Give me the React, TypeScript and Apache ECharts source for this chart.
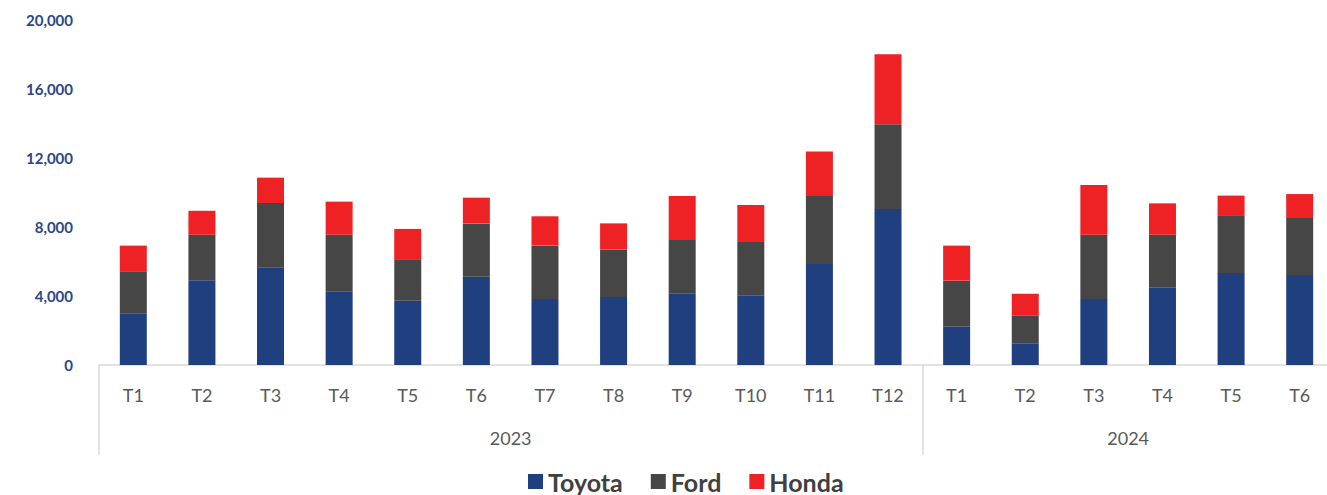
import React, { useEffect, useRef } from "react";
import * as echarts from "echarts";

const months = ["T1","T2","T3","T4","T5","T6","T7","T8","T9","T10","T11","T12","T1","T2","T3","T4","T5","T6"];
const years = ["2023", "2024"];
const yearCenters = [6, 15];
const yearBounds = [0, 12, 18];
const toyota = [3000,4910,5660,4270,3730,5120,3830,3940,4160,4040,5860,9040,2220,1260,3830,4480,5330,5220];
const ford = [2430,2640,3730,3280,2360,3090,3090,2760,3090,3090,3940,4910,2670,1620,3720,3070,3310,3300];
const honda = [1490,1390,1470,1920,1800,1490,1700,1510,2550,2150,2570,4060,2030,1250,2880,1820,1180,1390];
const yTicks = [0, 4000, 8000, 12000, 16000, 20000];

const FONT = "Lato, 'Open Sans', sans-serif";

export default function App() {
  const ref = useRef<HTMLDivElement>(null);
  useEffect(() => {
    document.body.style.margin = "0";
    const chart = echarts.init(ref.current!, null, { renderer: "svg" });
    const seriesDef = [
      { name: "Toyota", data: toyota, color: "#1F3F7E" },
      { name: "Ford", data: ford, color: "#464646" },
      { name: "Honda", data: honda, color: "#EE2125" },
    ];
    chart.setOption({
      animation: false,
      textStyle: { fontFamily: FONT },
      grid: { left: 99, width: 1235, top: 20, bottom: 130, containLabel: false, outerBoundsMode: "none" },
      legend: {
        data: seriesDef.map((s) => s.name),
        bottom: -4,
        left: 523,
        icon: "rect",
        itemWidth: 15,
        itemHeight: 15,
        itemGap: 28,
        textStyle: { fontFamily: FONT, fontSize: 25, fontWeight: "bold", color: "#404040" },
      },
      xAxis: [
        {
          type: "category",
          data: months,
          axisLine: { lineStyle: { color: "#D9D9D9", width: 1.5 } },
          axisTick: { show: false },
          axisLabel: { color: "#595959", fontSize: 18, margin: 21, interval: 0, fontFamily: FONT },
        },
        {
          type: "value",
          position: "bottom",
          min: 0,
          max: 18,
          interval: 3,
          axisLine: { show: false },
          splitLine: { show: false },
          axisTick: {
            show: true,
            customValues: yearBounds,
            length: 90,
            lineStyle: { color: "#D9D9D9", width: 1.5 },
          },
          axisLabel: {
            customValues: yearCenters,
            formatter: (v: number) => years[yearCenters.indexOf(v)] ?? "",
            color: "#595959",
            fontSize: 18,
            margin: 64,
            fontFamily: FONT,
          },
        },
      ],
      yAxis: {
        type: "value",
        min: yTicks[0],
        max: yTicks[yTicks.length - 1],
        interval: 4000,
        splitLine: { show: false },
        axisLine: { show: false },
        axisTick: { show: false },
        axisLabel: {
          color: "#2A4787",
          fontSize: 15,
          fontWeight: "bold",
          margin: 26,
          fontFamily: FONT,
          formatter: (v: number) => v.toLocaleString("en-US"),
        },
      },
      series: seriesDef.map((s) => ({
        name: s.name,
        type: "bar",
        stack: "total",
        xAxisIndex: 0,
        barWidth: 27,
        data: s.data,
        itemStyle: { color: s.color },
      })),
    });
    return () => chart.dispose();
  }, []);
  return <div ref={ref} style={{ width: 1327, height: 495 }} />;
}
